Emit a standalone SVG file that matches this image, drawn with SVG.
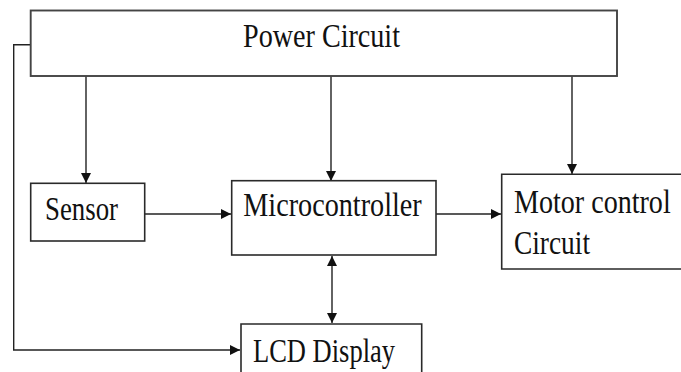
<svg xmlns="http://www.w3.org/2000/svg" width="681" height="372" viewBox="0 0 681 372">
  <style>
    .box { fill: #fff; stroke: #2a2a2a; stroke-width: 1.6; }
    .lbl { font-family: "Liberation Serif", "Times New Roman", serif; font-size: 33px; fill: #111; }
    .wire { fill: none; stroke: #222; stroke-width: 1.4; }
  </style>
  <defs>
    <marker id="ah" viewBox="0 0 10 10" refX="10" refY="5" markerWidth="10" markerHeight="10" markerUnits="userSpaceOnUse" orient="auto">
      <path d="M0,0 L10,5 L0,10 Z" fill="#111"/>
    </marker>
    <marker id="ahs" viewBox="0 0 10 10" refX="0" refY="5" markerWidth="10" markerHeight="10" markerUnits="userSpaceOnUse" orient="auto">
      <path d="M10,0 L0,5 L10,10 Z" fill="#111"/>
    </marker>
  </defs>

  <g id="connectors">
    <line class="wire" x1="86" y1="76" x2="86" y2="183" marker-end="url(#ah)"/>
    <line class="wire" x1="331" y1="76" x2="331" y2="181" marker-end="url(#ah)"/>
    <line class="wire" x1="572" y1="76" x2="572" y2="174" marker-end="url(#ah)"/>
    <line class="wire" x1="145" y1="214" x2="231" y2="214" marker-end="url(#ah)"/>
    <line class="wire" x1="436" y1="214" x2="501" y2="214" marker-end="url(#ah)"/>
    <line class="wire" x1="332" y1="256" x2="332" y2="323" marker-start="url(#ahs)" marker-end="url(#ah)"/>
    <polyline class="wire" points="30.7,44.7 13.7,44.7 13.7,350 240,350" marker-end="url(#ah)"/>
  </g>

  <g id="power">
    <rect class="box" x="30.7" y="10.5" width="586.3" height="65.5" style="stroke:#444;stroke-width:1.9"/>
    <text class="lbl" x="243" y="47" textLength="157" lengthAdjust="spacingAndGlyphs">Power Circuit</text>
  </g>

  <g id="sensor">
    <rect class="box" x="30.7" y="183.3" width="114" height="57.7"/>
    <text class="lbl" x="45" y="220" textLength="73" lengthAdjust="spacingAndGlyphs">Sensor</text>
  </g>

  <g id="microcontroller">
    <rect class="box" x="231.7" y="180.7" width="204.3" height="74.3"/>
    <text class="lbl" x="243.3" y="216" textLength="178.4" lengthAdjust="spacingAndGlyphs">Microcontroller</text>
  </g>

  <g id="motor">
    <path class="box" d="M681,174.3 H501.7 V269 H681"/>
    <text class="lbl" x="514" y="212.7" textLength="156.7" lengthAdjust="spacingAndGlyphs">Motor control</text>
    <text class="lbl" x="514" y="254" textLength="76" lengthAdjust="spacingAndGlyphs">Circuit</text>
  </g>

  <g id="lcd">
    <path class="box" d="M241,372 V324 H421.7 V372"/>
    <text class="lbl" x="253" y="361.7" textLength="142" lengthAdjust="spacingAndGlyphs">LCD Display</text>
  </g>
</svg>
